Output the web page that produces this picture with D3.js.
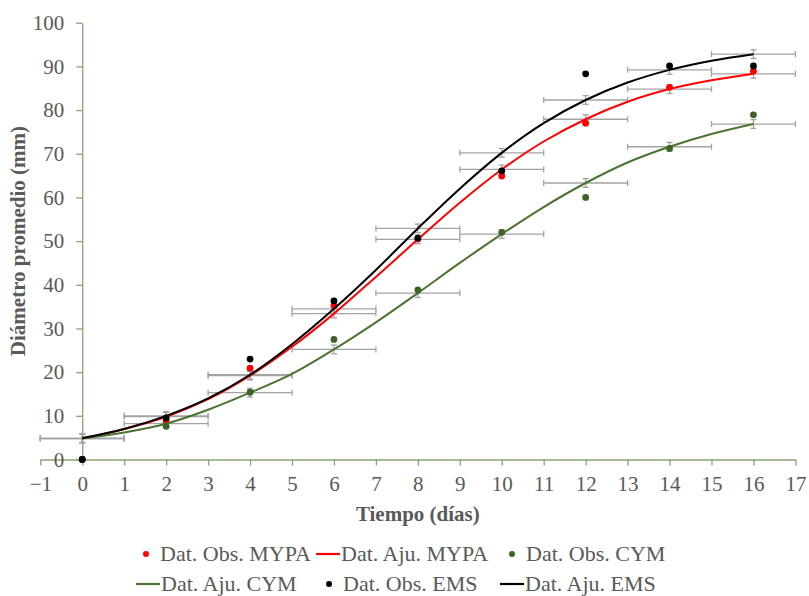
<!DOCTYPE html>
<meta charset="utf-8">
<head>
  <title>Diámetro promedio vs tiempo</title>
</head>

<style>
body { margin: 0; background: white; }
text {
  font-family: "Liberation Serif", "Times New Roman", Times, serif;
  fill: #595959;
}
.axis path, .axis line { stroke: #8aa274; stroke-width: 1.3; }
.axis text { font-size: 21px; fill: #595959; }
.title { font-size: 21px; font-weight: bold; }
.legend text { font-size: 22px; }
.err { stroke: #a3a3a3; stroke-width: 1.3; fill: none; }
</style>

<body>
  <svg width="809" height="596"></svg>

  <script src="https://cdnjs.cloudflare.com/ajax/libs/d3/7.8.5/d3.min.js"></script>
  <script>
// observed days
var days = [0, 2, 4, 6, 8, 10, 12, 14, 16];
var obsMYPA = [0, 8.8, 20.9, 35.2, 50.5, 64.9, 77.0, 85.2, 88.9];
var obsCYM  = [0, 7.6, 15.4, 27.5, 38.8, 52.0, 60.0, 71.2, 78.9];
var obsEMS  = [0, 9.5, 23.0, 36.3, 50.7, 66.1, 88.3, 90.1, 90.1];

// fitted curves, read at every day
var fitDays = [0, 1, 2, 3, 4, 5, 6, 7, 8, 9, 10, 11, 12, 13, 14, 15, 16];
var fitMYPA = [4.8, 7.0, 9.8, 13.8, 19.2, 25.8, 33.4, 41.8, 50.4, 58.8, 66.4, 72.8, 77.9, 81.9, 84.8, 86.8, 88.3];
var fitCYM  = [4.8, 6.2, 8.2, 11.4, 15.3, 19.6, 25.2, 31.4, 38.1, 45.0, 51.6, 57.8, 63.3, 68.0, 71.6, 74.5, 76.8];
var fitEMS  = [4.9, 7.0, 10.0, 14.0, 19.4, 26.4, 34.5, 43.4, 52.9, 62.0, 70.2, 77.0, 82.3, 86.3, 89.2, 91.3, 92.8];

// error bars on the fitted values at the observed days
var errX = 1;
var errY = 1.0;

var xTicks = d3.range(-1, 18);
var yTicks = d3.range(0, 101, 10);

var svg = d3.select('svg');

var x = d3.scaleLinear().domain([-1, 17]).range([40.3, 795.4]);
var y = d3.scaleLinear().domain([0, 100]).range([459.5, 22.7]);

// axes
svg.append('g')
  .attr('class', 'axis')
  .attr('transform', 'translate(0,' + y(0) + ')')
  .call(d3.axisBottom(x).tickValues(xTicks).tickSize(6).tickSizeOuter(0).tickPadding(11).tickFormat(d3.format('d')))
  .call(function(g) { g.attr('font-family', null).attr('font-size', null); });

svg.append('g')
  .attr('class', 'axis')
  .attr('transform', 'translate(' + x(0) + ',0)')
  .call(d3.axisLeft(y).tickValues(yTicks).tickSize(6).tickSizeOuter(0).tickPadding(12))
  .call(function(g) { g.attr('font-family', null).attr('font-size', null); });

// axis titles
svg.append('text')
  .attr('class', 'title')
  .attr('x', (x(-1) + x(17)) / 2)
  .attr('y', 521)
  .attr('text-anchor', 'middle')
  .text('Tiempo (días)');

svg.append('text')
  .attr('class', 'title')
  .attr('transform', 'translate(25,' + (y(0) + y(100)) / 2 + ') rotate(-90)')
  .attr('text-anchor', 'middle')
  .text('Diámetro promedio (mm)');

var series = [
  { name: 'MYPA', obs: obsMYPA, fit: fitMYPA, color: '#ff0000', dot: '#ff0000' },
  { name: 'CYM',  obs: obsCYM,  fit: fitCYM,  color: '#4b7331', dot: '#3d6327' },
  { name: 'EMS',  obs: obsEMS,  fit: fitEMS,  color: '#000000', dot: '#000000' }
];

// error bars
series.forEach(function(s) {
  var pts = days.map(function(d) { return { x: d, y: s.fit[fitDays.indexOf(d)] }; });
  var g = svg.append('g').attr('class', 'err');
  pts.forEach(function(p) {
    var cx = x(p.x), cy = y(p.y);
    var x0 = x(p.x - errX), x1 = x(p.x + errX);
    var y0 = y(p.y - errY), y1 = y(p.y + errY);
    g.append('line').attr('x1', x0).attr('x2', x1).attr('y1', cy).attr('y2', cy);
    g.append('line').attr('x1', x0).attr('x2', x0).attr('y1', cy - 3).attr('y2', cy + 3);
    g.append('line').attr('x1', x1).attr('x2', x1).attr('y1', cy - 3).attr('y2', cy + 3);
    g.append('line').attr('x1', cx).attr('x2', cx).attr('y1', y0).attr('y2', y1);
    g.append('line').attr('x1', cx - 3).attr('x2', cx + 3).attr('y1', y0).attr('y2', y0);
    g.append('line').attr('x1', cx - 3).attr('x2', cx + 3).attr('y1', y1).attr('y2', y1);
  });
});

var line = d3.line()
  .x(function(d) { return x(d[0]); })
  .y(function(d) { return y(d[1]); })
  .curve(d3.curveCatmullRom);

series.forEach(function(s) {
  svg.append('path')
    .datum(fitDays.map(function(d, i) { return [d, s.fit[i]]; }))
    .attr('fill', 'none')
    .attr('stroke', s.color)
    .attr('stroke-width', 2)
    .attr('d', line);

  svg.append('g')
    .selectAll('circle')
    .data(days.map(function(d, i) { return [d, s.obs[i]]; }))
    .enter()
    .append('circle')
    .attr('cx', function(d) { return x(d[0]); })
    .attr('cy', function(d) { return y(d[1]); })
    .attr('r', 3.4)
    .attr('fill', s.dot);
});

// legend
var legendItems = [
  { label: 'Dat. Obs. MYPA', type: 'dot',  color: '#ff0000', x: 146, y: 561 },
  { label: 'Dat. Aju. MYPA', type: 'line', color: '#ff0000', x: 316, y: 561 },
  { label: 'Dat. Obs. CYM',  type: 'dot',  color: '#3d6327', x: 512, y: 561 },
  { label: 'Dat. Aju. CYM',  type: 'line', color: '#4b7331', x: 136, y: 591 },
  { label: 'Dat. Obs. EMS',  type: 'dot',  color: '#000000', x: 329, y: 591 },
  { label: 'Dat. Aju. EMS',  type: 'line', color: '#000000', x: 500, y: 591 }
];

var legend = svg.append('g').attr('class', 'legend');
legendItems.forEach(function(it) {
  var tx;
  if (it.type === 'dot') {
    legend.append('circle').attr('cx', it.x).attr('cy', it.y - 7).attr('r', 3).attr('fill', it.color);
    tx = it.x + 14;
  } else {
    legend.append('line').attr('x1', it.x).attr('x2', it.x + 24)
      .attr('y1', it.y - 7).attr('y2', it.y - 7)
      .attr('stroke', it.color).attr('stroke-width', 2.2);
    tx = it.x + 25;
  }
  legend.append('text').attr('x', tx).attr('y', it.y).text(it.label);
});
  </script>
</body>
</html>
